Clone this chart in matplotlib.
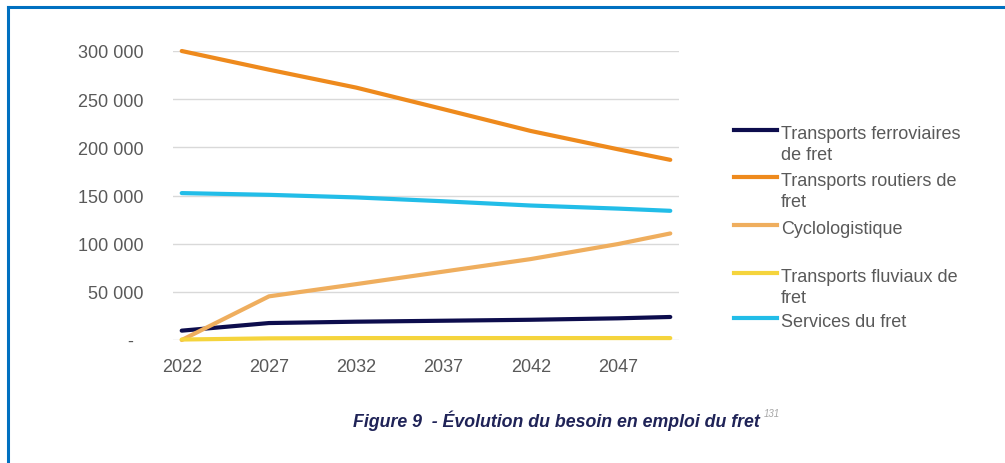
import matplotlib
matplotlib.use("Agg")
import matplotlib.pyplot as plt
from matplotlib.lines import Line2D
from matplotlib.ticker import FuncFormatter

years = [2022, 2027, 2032, 2037, 2042, 2047, 2050]
ferroviaires = [9700, 17600, 19000, 20000, 21000, 22500, 23900]
routiers = [300000, 280600, 262000, 239600, 217000, 198000, 187000]
cyclologistique = [0, 45300, 58000, 71000, 84000, 99600, 110600]
fluviaux = [500, 1700, 2000, 2000, 2000, 2000, 2000]
services = [152500, 150700, 148000, 144000, 139600, 136400, 134100]

labels = ["Transports ferroviaires\nde fret", "Transports routiers de\nfret", "Cyclologistique",
          "Transports fluviaux de\nfret", "Services du fret"]
series = [ferroviaires, routiers, cyclologistique, fluviaux, services]
colors = ["#0D0D4D", "#EE8A1D", "#EFAE5E", "#F5D43C", "#22BDE8"]
xticks = [2022, 2027, 2032, 2037, 2042, 2047]
yticks = [0, 50000, 100000, 150000, 200000, 250000, 300000]
caption = "Figure 9  - Évolution du besoin en emploi du fret"

plt.rcParams['font.family'] = ['Liberation Sans', 'DejaVu Sans']

W, H = 1005, 464
fig = plt.figure(figsize=(W / 100, H / 100), dpi=100)
fig.patch.set_facecolor("white")

def fx(x):
    return x / W

def fy(y):
    return 1 - y / H

ax = fig.add_axes([fx(173), fy(341), fx(679) - fx(173), fy(52) - fy(341)])
order = [4, 3, 2, 0, 1]
for i in order:
    ax.plot(years, series[i], color=colors[i], lw=3.0, solid_capstyle="round", clip_on=False, zorder=3 + i)

ax.set_xlim(2021.5, 2050.5)
ax.set_ylim(0, 300000)
ax.set_xticks(xticks)
ax.set_yticks(yticks)
ax.yaxis.set_major_formatter(FuncFormatter(
    lambda v, p: "-  " if v == 0 else f"{int(v):,}".replace(",", " ")))
ax.tick_params(axis="both", length=0, labelcolor="#595959", labelsize=13)
ax.tick_params(axis="x", pad=13)
ax.tick_params(axis="y", pad=21)
ax.grid(axis="y", color="#D9D9D9", lw=1.0)
ax.set_axisbelow(True)
for s in ax.spines.values():
    s.set_visible(False)

# legend
handle_y = [131, 178, 226, 274, 319]
for lab, col, hy in zip(labels, colors, handle_y):
    fig.add_artist(Line2D([fx(734), fx(777)], [fy(hy), fy(hy)], color=col, lw=3.0,
                          transform=fig.transFigure))
    fig.text(fx(781), fy(hy - 5), lab, ha="left", va="top", fontsize=13,
             color="#595959", linespacing=1.32)

# caption
fig.text(fx(556), fy(421), caption, ha="center", va="center", fontsize=12.8,
         fontweight="bold", fontstyle="italic", color="#1F2357")
fig.text(fx(764), fy(414), "131", ha="left", va="center", fontsize=7, color="#A6A6A6",
         fontstyle="italic")

# frame border (top and left)
fig.add_artist(Line2D([fx(8), fx(8)], [fy(8), 0], color="#0070C0", lw=2.2, transform=fig.transFigure))
fig.add_artist(Line2D([fx(8), 1], [fy(8), fy(8)], color="#0070C0", lw=2.2, transform=fig.transFigure))

fig.savefig("out.png", dpi=100)
